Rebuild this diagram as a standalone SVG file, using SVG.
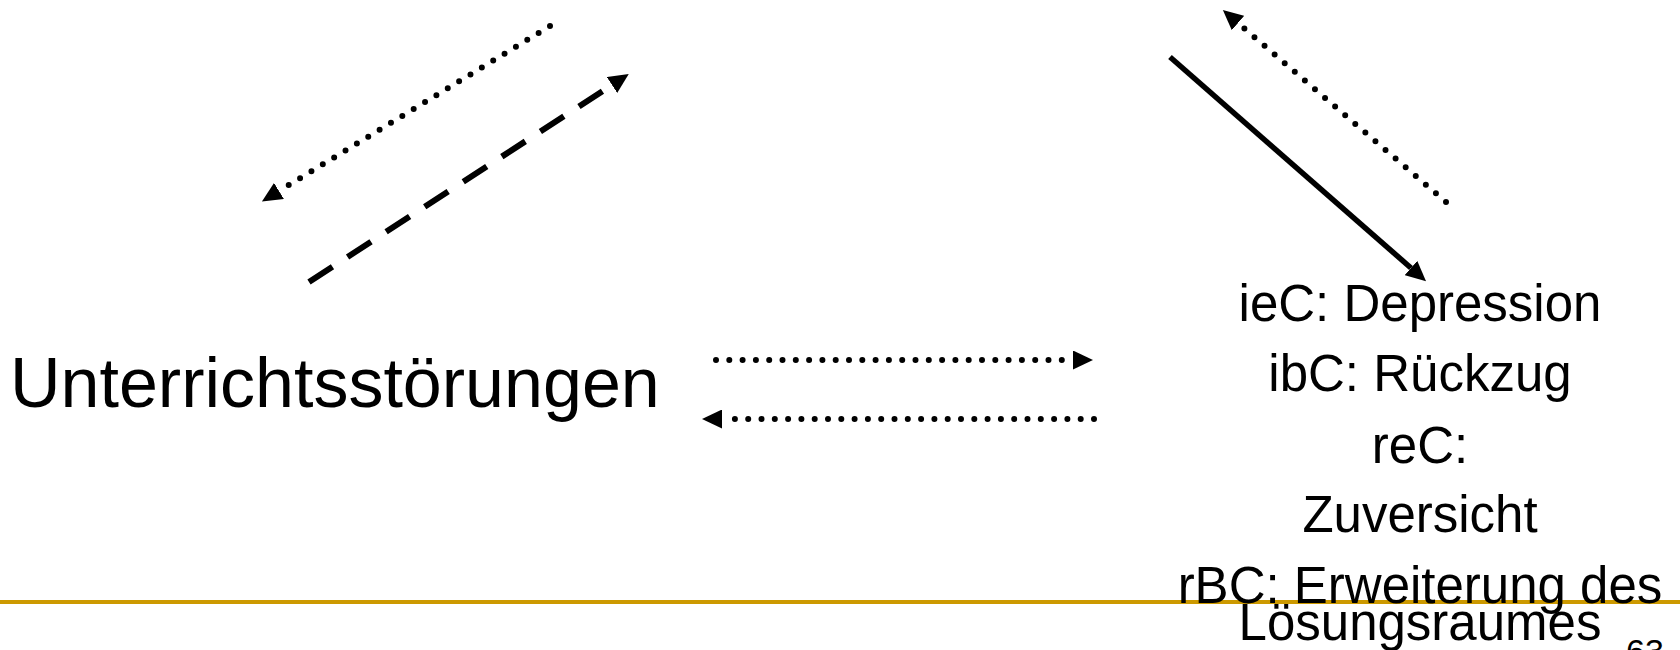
<svg xmlns="http://www.w3.org/2000/svg" width="1680" height="650" viewBox="0 0 1680 650">
<style>
text { font-family: "Liberation Sans", Arial, sans-serif; fill: #000; }
.big { font-size: 70px; }
.mid { font-size: 51px; }
.pg { font-size: 34px; }
.c { fill: none; stroke: #000; }
.dot { stroke-width: 6; stroke-linecap: round; stroke-dasharray: 0 13.3; }
.dash { stroke-width: 6; stroke-dasharray: 28 18; }
.solid { stroke-width: 5.5; }
</style>
<defs>
<marker id="ah" viewBox="0 0 20 19" markerWidth="20" markerHeight="19" refX="0" refY="9.5" orient="auto" markerUnits="userSpaceOnUse">
<path d="M0,0 L20,9.5 L0,19 Z" fill="#000"/>
</marker>
</defs>
<rect width="1680" height="650" fill="#fff"/>
<g id="footer-line">
<line x1="0" y1="602" x2="1680" y2="602" stroke="#CC9900" stroke-width="4"/>
</g>
<g id="node-unterricht">
<text class="big" x="10" y="407">Unterrichtsstörungen</text>
</g>
<g id="node-reaktionen">
<text class="mid" text-anchor="middle" x="1420" y="321">ieC: Depression</text>
<text class="mid" text-anchor="middle" x="1420" y="391">ibC: Rückzug</text>
<text class="mid" text-anchor="middle" x="1420" y="463">reC:</text>
<text class="mid" text-anchor="middle" x="1420" y="532">Zuversicht</text>
<text class="mid" text-anchor="middle" x="1420" y="603">rBC: Erweiterung des</text>
<text class="mid" text-anchor="middle" x="1420" y="640">Lösungsraumes</text>
</g>
<g id="page-number">
<text class="pg" x="1626" y="663">63</text>
</g>
<g id="connectors">
<line class="c dot" x1="550" y1="26" x2="279" y2="191" marker-end="url(#ah)"/>
<line class="c dash" x1="309" y1="282" x2="612" y2="85" marker-end="url(#ah)"/>
<line class="c solid" x1="1170" y1="57" x2="1411" y2="268" marker-end="url(#ah)"/>
<line class="c dot" x1="1446" y1="202" x2="1238" y2="23" marker-end="url(#ah)"/>
<line class="c dot" x1="716" y1="360" x2="1073" y2="360" marker-end="url(#ah)"/>
<line class="c dot" x1="1094" y1="419" x2="722" y2="419" marker-end="url(#ah)"/>
</g>
</svg>
